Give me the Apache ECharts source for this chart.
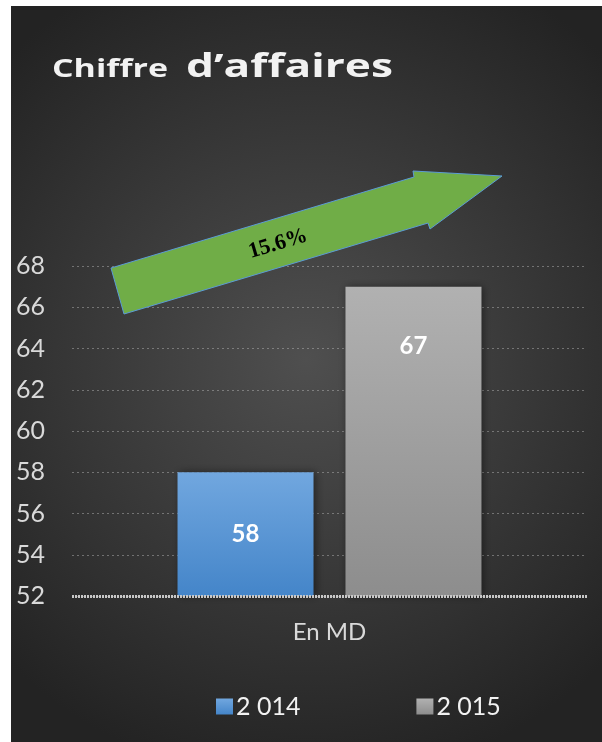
<!DOCTYPE html>
<html>
<head>
<meta charset="utf-8">
<script src="https://cdn.jsdelivr.net/npm/echarts@6/dist/echarts.min.js"></script>
<style>
  html, body { margin: 0; padding: 0; background: #ffffff; }
  #chart { width: 602px; height: 742px; }
</style>
</head>
<body>
<div id="chart"></div>
<script>
// données du graphique
const categories = ['En MD']
const seriesNames = ['2 014', '2 015']
const values2014 = [58]
const values2015 = [67]
const yTicks = { min: 52, max: 68, interval: 2 }
const growthLabel = '15.6%'

const chart = echarts.init(document.getElementById('chart'))

const labelFont = 'Lato, "Open Sans", sans-serif'
const titleFont = '"Open Sans", sans-serif'

// le titre est très espacé dans l'original : on étire le texte à la bonne largeur
const measureCtx = document.createElement('canvas').getContext('2d')
function stretch(text, size, target) {
  measureCtx.font = 'bold ' + size + 'px ' + titleFont
  return target / measureCtx.measureText(text).width
}

// dégradés des barres
const blueFill = new echarts.graphic.LinearGradient(0, 0, 0, 1, [
  { offset: 0, color: '#71a7df' },
  { offset: 1, color: '#4485c9' }
])
const greyFill = new echarts.graphic.LinearGradient(0, 0, 0, 1, [
  { offset: 0, color: '#b1b1b1' },
  { offset: 1, color: '#8d8d8d' }
])

const barLabel = {
  show: true,
  position: 'inside',
  color: '#ffffff',
  fontFamily: labelFont,
  fontWeight: 'bold',
  fontSize: 24
}

chart.setOption({
  animation: false,
  graphic: [
    {
      // fond sombre
      type: 'rect',
      z: -10,
      silent: true,
      shape: { x: 11, y: 6, width: 591, height: 736 },
      style: {
        fill: new echarts.graphic.RadialGradient(0.5, 0.48, 0.72, [
          { offset: 0, color: '#4f4f4f' },
          { offset: 1, color: '#232323' }
        ])
      }
    },
    {
      type: 'text',
      x: 52,
      y: 82,
      scaleX: stretch('Chiffre', 25, 116),
      style: {
        text: 'Chiffre',
        fill: '#f2f2f2',
        fontFamily: titleFont,
        fontWeight: 'bold',
        fontSize: 25,
        verticalAlign: 'bottom'
      }
    },
    {
      type: 'text',
      x: 186,
      y: 84,
      scaleX: stretch('d’affaires', 33, 207),
      style: {
        text: 'd’affaires',
        fill: '#f2f2f2',
        fontFamily: titleFont,
        fontWeight: 'bold',
        fontSize: 33,
        verticalAlign: 'bottom'
      }
    },
    {
      // flèche de croissance
      type: 'polygon',
      z: 10,
      shape: {
        points: [[111, 268], [414, 177], [413, 171], [502, 176], [430, 229], [428, 223], [124, 314]]
      },
      style: { fill: '#70ad47', stroke: '#5b9bd5', lineWidth: 1 }
    },
    {
      type: 'text',
      z: 11,
      x: 278,
      y: 244,
      rotation: 0.29,
      style: {
        text: growthLabel,
        fill: '#000000',
        fontFamily: '"Liberation Serif", serif',
        fontWeight: 'bold',
        fontSize: 22,
        align: 'center',
        verticalAlign: 'middle'
      }
    }
  ],
  legend: {
    bottom: 18,
    left: 211,
    itemGap: 116,
    itemWidth: 17,
    itemHeight: 16,
    icon: 'rect',
    textStyle: { color: '#f2f2f2', fontFamily: labelFont, fontSize: 25, padding: [0, 0, 0, -2] },
    data: seriesNames
  },
  grid: { left: 72, right: 15, top: 266, bottom: 146 },
  xAxis: {
    type: 'category',
    data: categories,
    axisLine: { show: false },
    axisTick: { show: false },
    axisLabel: { color: '#d9d9d9', fontFamily: labelFont, fontSize: 24, margin: 24 }
  },
  yAxis: {
    type: 'value',
    min: yTicks.min,
    max: yTicks.max,
    interval: yTicks.interval,
    axisLine: { show: false },
    axisTick: { show: false },
    axisLabel: { color: '#d9d9d9', fontFamily: labelFont, fontSize: 25, margin: 27 },
    splitLine: { lineStyle: { color: 'rgba(190,190,190,0.45)', type: [2, 3], width: 1 } }
  },
  series: [
    {
      name: seriesNames[0],
      type: 'bar',
      data: values2014,
      barWidth: 136,
      barGap: '23.5%',
      itemStyle: { color: blueFill, shadowBlur: 8, shadowColor: 'rgba(0,0,0,0.45)', shadowOffsetX: 2 },
      label: barLabel
    },
    {
      name: seriesNames[1],
      type: 'bar',
      data: values2015,
      barWidth: 136,
      itemStyle: { color: greyFill, shadowBlur: 8, shadowColor: 'rgba(0,0,0,0.45)', shadowOffsetX: 2 },
      label: Object.assign({}, barLabel, { position: 'insideTop', distance: 48 })
    },
    {
      // ligne de base pointillée
      type: 'line',
      data: [],
      markLine: {
        silent: true,
        symbol: 'none',
        label: { show: false },
        lineStyle: { color: '#c8c8c8', type: [2, 1], width: 3 },
        data: [{ yAxis: yTicks.min }]
      }
    }
  ]
})
</script>
</body>
</html>
